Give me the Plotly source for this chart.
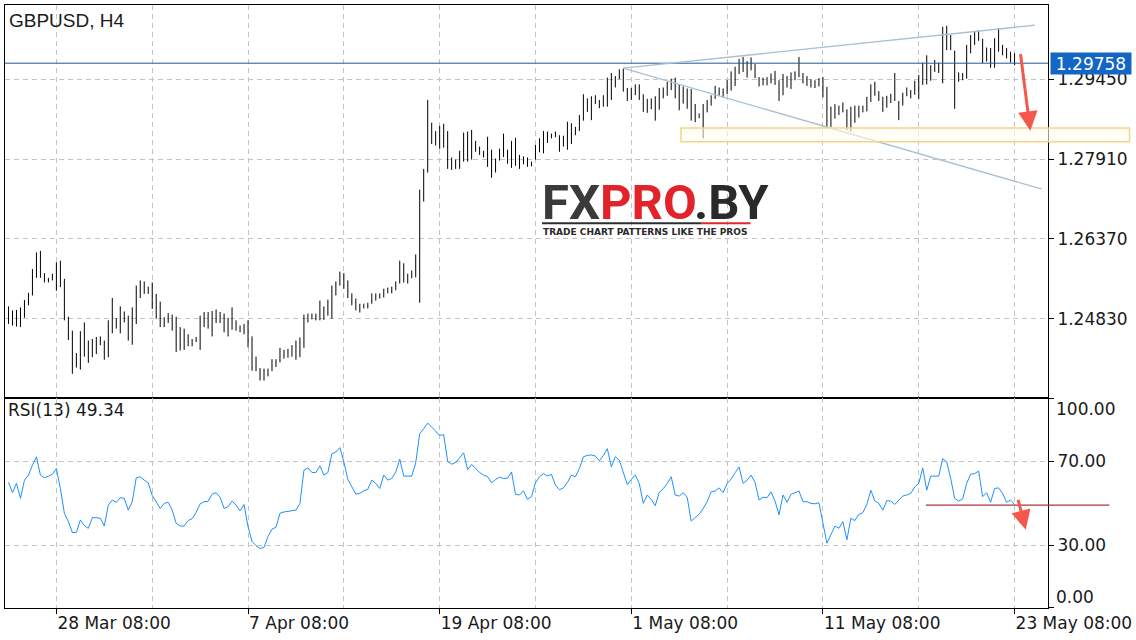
import plotly.graph_objects as go

# ---------------- data ----------------
bar_high = [
    1.2507, 1.2499, 1.2500, 1.2505, 1.2519, 1.2533, 1.2579, 1.2611, 1.2614, 1.2571,
    1.2562, 1.2570, 1.2592, 1.2595, 1.2560, 1.2487, 1.2460, 1.2417, 1.2459, 1.2476,
    1.2441, 1.2444, 1.2448, 1.2449, 1.2441, 1.2480, 1.2523, 1.2484, 1.2507, 1.2497,
    1.2489, 1.2505, 1.2547, 1.2557, 1.2555, 1.2545, 1.2553, 1.2531, 1.2516, 1.2486,
    1.2494, 1.2491, 1.2487, 1.2467, 1.2464, 1.2453, 1.2444, 1.2448, 1.2489, 1.2496,
    1.2496, 1.2498, 1.2501, 1.2496, 1.2493, 1.2485, 1.2505, 1.2480, 1.2470, 1.2473,
    1.2480, 1.2449, 1.2410, 1.2388, 1.2387, 1.2387, 1.2405, 1.2405, 1.2427, 1.2423,
    1.2425, 1.2432, 1.2441, 1.2447, 1.2491, 1.2493, 1.2493, 1.2493, 1.2518, 1.2507,
    1.2520, 1.2547, 1.2555, 1.2574, 1.2571, 1.2557, 1.2532, 1.2522, 1.2512, 1.2512,
    1.2514, 1.2532, 1.2532, 1.2532, 1.2541, 1.2543, 1.2545, 1.2555, 1.2595, 1.2590,
    1.2570, 1.2576, 1.2607, 1.2732, 1.2772, 1.2905, 1.2861, 1.2845, 1.2855, 1.2859,
    1.2845, 1.2794, 1.2790, 1.2807, 1.2842, 1.2844, 1.2847, 1.2826, 1.2815, 1.2807,
    1.2834, 1.2809, 1.2792, 1.2811, 1.2840, 1.2809, 1.2826, 1.2832, 1.2799, 1.2796,
    1.2794, 1.2786, 1.2818, 1.2831, 1.2845, 1.2844, 1.2840, 1.2844, 1.2837, 1.2836,
    1.2863, 1.2860, 1.2853, 1.2876, 1.2916, 1.2908, 1.2912, 1.2914, 1.2905, 1.2914,
    1.2948, 1.2957, 1.2951, 1.2964, 1.2966, 1.2928, 1.2928, 1.2935, 1.2935, 1.2916,
    1.2907, 1.2908, 1.2912, 1.2928, 1.2929, 1.2940, 1.2946, 1.2948, 1.2935, 1.2931,
    1.2927, 1.2926, 1.2897, 1.2879, 1.2897, 1.2905, 1.2914, 1.2932, 1.2929, 1.2927,
    1.2943, 1.2960, 1.2969, 1.2984, 1.2988, 1.2980, 1.2987, 1.2974, 1.2949, 1.2948,
    1.2949, 1.2956, 1.2961, 1.2943, 1.2955, 1.2951, 1.2958, 1.2960, 1.2988, 1.2957,
    1.2951, 1.2945, 1.2943, 1.2947, 1.2949, 1.2930, 1.2892, 1.2897, 1.2894, 1.2900,
    1.2887, 1.2892, 1.2894, 1.2894, 1.2894, 1.2911, 1.2935, 1.2940, 1.2922, 1.2911,
    1.2913, 1.2917, 1.2957, 1.2903, 1.2919, 1.2929, 1.2924, 1.2942, 1.2953, 1.2977,
    1.2991, 1.2972, 1.2982, 1.2977, 1.3046, 1.3048, 1.3030, 1.3000, 1.2958, 1.2957,
    1.3011, 1.3030, 1.3038, 1.3039, 1.3023, 1.3006, 1.3005, 1.3024, 1.3043, 1.3011,
    1.3005, 1.2998, 1.2995,
]
bar_low = [
    1.2473, 1.2470, 1.2468, 1.2467, 1.2485, 1.2509, 1.2528, 1.2562, 1.2562, 1.2553,
    1.2553, 1.2557, 1.2537, 1.2544, 1.2480, 1.2442, 1.2377, 1.2389, 1.2385, 1.2410,
    1.2398, 1.2409, 1.2415, 1.2432, 1.2404, 1.2409, 1.2455, 1.2464, 1.2455, 1.2476,
    1.2441, 1.2433, 1.2473, 1.2523, 1.2531, 1.2531, 1.2502, 1.2483, 1.2467, 1.2467,
    1.2475, 1.2460, 1.2419, 1.2422, 1.2423, 1.2430, 1.2430, 1.2438, 1.2423, 1.2467,
    1.2464, 1.2449, 1.2475, 1.2475, 1.2457, 1.2449, 1.2462, 1.2460, 1.2457, 1.2453,
    1.2428, 1.2383, 1.2382, 1.2364, 1.2364, 1.2372, 1.2382, 1.2390, 1.2399, 1.2406,
    1.2408, 1.2410, 1.2404, 1.2409, 1.2427, 1.2476, 1.2482, 1.2480, 1.2480, 1.2481,
    1.2489, 1.2483, 1.2528, 1.2547, 1.2541, 1.2523, 1.2509, 1.2499, 1.2495, 1.2503,
    1.2503, 1.2512, 1.2518, 1.2522, 1.2524, 1.2532, 1.2532, 1.2538, 1.2551, 1.2553,
    1.2551, 1.2561, 1.2563, 1.2514, 1.2709, 1.2765, 1.2820, 1.2817, 1.2811, 1.2813,
    1.2772, 1.2770, 1.2772, 1.2772, 1.2786, 1.2786, 1.2790, 1.2805, 1.2799, 1.2794,
    1.2776, 1.2755, 1.2765, 1.2788, 1.2795, 1.2782, 1.2774, 1.2778, 1.2772, 1.2781,
    1.2776, 1.2777, 1.2790, 1.2804, 1.2802, 1.2822, 1.2831, 1.2833, 1.2805, 1.2815,
    1.2809, 1.2820, 1.2837, 1.2845, 1.2865, 1.2882, 1.2866, 1.2897, 1.2889, 1.2892,
    1.2892, 1.2905, 1.2929, 1.2945, 1.2921, 1.2903, 1.2905, 1.2914, 1.2905, 1.2882,
    1.2880, 1.2887, 1.2865, 1.2886, 1.2908, 1.2913, 1.2924, 1.2908, 1.2885, 1.2898,
    1.2888, 1.2865, 1.2862, 1.2870, 1.2831, 1.2881, 1.2894, 1.2907, 1.2913, 1.2910,
    1.2916, 1.2923, 1.2932, 1.2955, 1.2959, 1.2948, 1.2962, 1.2947, 1.2931, 1.2933,
    1.2933, 1.2937, 1.2934, 1.2903, 1.2914, 1.2929, 1.2926, 1.2943, 1.2949, 1.2937,
    1.2932, 1.2929, 1.2928, 1.2931, 1.2910, 1.2853, 1.2853, 1.2869, 1.2876, 1.2881,
    1.2847, 1.2844, 1.2861, 1.2871, 1.2881, 1.2883, 1.2901, 1.2913, 1.2903, 1.2882,
    1.2890, 1.2899, 1.2903, 1.2866, 1.2894, 1.2912, 1.2908, 1.2915, 1.2907, 1.2934,
    1.2935, 1.2942, 1.2959, 1.2957, 1.2937, 1.3001, 1.3001, 1.2888, 1.2940, 1.2943,
    1.2946, 1.2995, 1.3011, 1.3019, 1.2976, 1.2979, 1.2967, 1.2967, 1.2998, 1.2991,
    1.2985, 1.2977, 1.2972,
]
rsi_values = [
    59.9, 55.0, 59.4, 52.3, 61.0, 63.4, 68.1, 72.1, 63.4, 62.1,
    62.9, 63.8, 66.5, 57.0, 45.2, 41.2, 36.0, 36.0, 42.0, 39.3,
    38.0, 43.1, 43.1, 42.8, 39.1, 49.1, 51.5, 50.4, 52.6, 52.3,
    46.7, 50.7, 62.1, 62.6, 61.0, 59.7, 53.7, 50.4, 47.5, 49.9,
    50.4, 46.7, 40.4, 39.1, 39.1, 41.7, 42.6, 45.6, 49.7, 50.7,
    50.9, 54.3, 55.0, 52.8, 47.5, 48.3, 51.0, 49.1, 46.3, 49.4,
    38.8, 31.7, 29.7, 28.4, 28.9, 34.1, 37.6, 38.5, 45.2, 45.8,
    46.2, 46.6, 46.7, 49.9, 65.7, 66.8, 64.6, 64.6, 67.8, 63.4,
    64.6, 73.6, 74.4, 76.5, 69.7, 61.3, 57.8, 54.3, 54.7, 55.9,
    56.6, 61.0, 59.4, 57.0, 63.4, 61.0, 61.8, 64.9, 71.0, 62.9,
    62.9, 62.9, 69.2, 83.1, 85.5, 88.2, 86.3, 84.2, 82.3, 82.7,
    70.0, 68.6, 69.4, 71.6, 74.0, 66.0, 68.4, 66.7, 64.6, 63.4,
    62.7, 59.7, 61.3, 62.4, 61.8, 61.9, 64.9, 54.2, 53.9, 55.9,
    51.8, 53.1, 59.7, 62.6, 64.1, 63.0, 63.7, 58.6, 56.4, 57.3,
    59.9, 63.4, 62.6, 66.5, 72.1, 72.8, 73.0, 72.5, 70.2, 72.8,
    76.0, 67.3, 72.1, 70.5, 64.1, 58.9, 61.3, 63.4, 59.4, 49.9,
    53.9, 51.8, 48.8, 55.1, 56.9, 59.4, 62.6, 53.9, 53.4, 55.0,
    52.8, 41.5, 43.1, 44.7, 47.5, 50.7, 55.4, 55.8, 57.3, 55.0,
    59.4, 61.5, 64.5, 67.3, 59.4, 61.0, 63.4, 59.9, 51.5, 52.8,
    52.6, 55.4, 51.0, 44.4, 53.9, 50.4, 54.2, 55.0, 55.8, 50.7,
    50.7, 49.9, 49.7, 50.2, 41.2, 30.9, 34.9, 39.1, 38.0, 41.2,
    32.5, 42.8, 41.7, 44.7, 45.5, 49.4, 56.2, 51.0, 49.9, 46.7,
    51.2, 51.0, 49.4, 51.5, 53.4, 53.9, 54.7, 57.8, 59.4, 66.8,
    56.2, 62.9, 62.9, 62.9, 71.3, 69.7, 61.8, 52.3, 51.0, 52.0,
    59.4, 63.8, 64.1, 65.3, 53.1, 55.0, 50.4, 57.0, 57.3, 54.7,
    50.4, 51.5, 49.3,
]

price_ticks = [1.24830, 1.26370, 1.27910, 1.29450]
price_tick_text = ["1.24830", "1.26370", "1.27910", "1.29450"]
rsi_ticks = [0, 30, 70, 100]
rsi_tick_text = ["", "30.00", "70.00", ""]
date_tick_index = [12, 60, 108, 156, 204, 252]
date_tick_text = ["28 Mar 08:00", "7 Apr 08:00", "19 Apr 08:00",
                  "1 May 08:00", "11 May 08:00", "23 May 08:00"]
grid_index = [12, 36, 60, 84, 108, 132, 156, 180, 204, 228, 252]

last_price = 1.29758
last_price_text = "1.29758"
rsi_label = "RSI(13) 49.34"
symbol_label = "GBPUSD, H4"

# drawn objects (bar index, price / rsi units)
tri_apex = (153.95, 1.29662)
tri_upper = (257.05, 1.30490)
tri_lower = (258.7, 1.27333)
zone_index = [168.45, 280.8]
zone_price = [1.28243, 1.28507]
price_arrow_tail = (253.45, 1.29962)
price_arrow_tip = (255.95, 1.28455)
rsi_level_index = [229.8, 275.75]
rsi_level = 49.1
rsi_arrow_tail = (252.8, 52.3)
rsi_arrow_tip = (254.8, 37.3)

# ---------------- figure ----------------
W, H = 1136, 640
ML, MR, MT, MB = 5, 86, 4, 32
X_RANGE = [-0.875, 260.375]
PRICE_RANGE = [1.232958, 1.308803]
SPLIT = 210 / 604.0

def px_x(px):
    return (px - ML) / (W - ML - MR)

def px_y(py):
    return (H - MB - py) / (H - MT - MB)

def idx_to_paper(k):
    return (k - X_RANGE[0]) / (X_RANGE[1] - X_RANGE[0])

bx, by = [], []
for i, (h, l) in enumerate(zip(bar_high, bar_low)):
    bx += [i, i, None]
    by += [h, l, None]

fig = go.Figure()
fig.add_trace(go.Scatter(x=bx, y=by, mode="lines", xaxis="x", yaxis="y",
                         line=dict(color="#000000", width=1), hoverinfo="skip",
                         showlegend=False))
fig.add_trace(go.Scatter(x=list(range(len(rsi_values))), y=rsi_values, mode="lines",
                         xaxis="x2", yaxis="y2",
                         line=dict(color="#1e90ff", width=1), showlegend=False))

GRID = dict(showgrid=True, gridcolor="#c4c4c4", gridwidth=1, griddash="5px,4px")
TICKFONT = dict(family="DejaVu Sans", size=17, color="#1a1a1a")

fig.update_layout(
    width=W, height=H,
    margin=dict(l=ML, r=MR, t=MT, b=MB, pad=0),
    paper_bgcolor="white", plot_bgcolor="white",
    showlegend=False,
    xaxis=dict(domain=[0, 1], anchor="y", range=X_RANGE, tickmode="array",
               tickvals=grid_index, showticklabels=False, ticks="",
               showline=True, mirror=True, linecolor="#000", linewidth=1,
               zeroline=False, **GRID),
    xaxis2=dict(domain=[0, 1], anchor="y2", range=X_RANGE, matches="x",
                tickmode="array", tickvals=date_tick_index, ticktext=date_tick_text,
                ticks="outside", ticklen=5, tickcolor="#000",
                ticklabelposition="outside right", tickfont=TICKFONT,
                minor=dict(tickmode="array", tickvals=grid_index, ticks="",
                           showgrid=True, gridcolor="#c4c4c4", griddash="5px,4px"),
                showline=True, mirror=True, linecolor="#000", linewidth=1,
                zeroline=False, **GRID),
    yaxis=dict(domain=[SPLIT, 1], anchor="x", side="right", range=PRICE_RANGE,
               tickmode="array", tickvals=price_ticks, ticktext=price_tick_text,
               ticks="outside", ticklen=5, tickcolor="#000", tickfont=TICKFONT,
               showline=True, mirror=True, linecolor="#000", linewidth=1,
               zeroline=False, **GRID),
    yaxis2=dict(domain=[0, SPLIT], anchor="x2", side="right", range=[0, 100],
                tickmode="array", tickvals=rsi_ticks, ticktext=rsi_tick_text,
                ticks="outside", ticklen=5, tickcolor="#000", tickfont=TICKFONT,
                showline=True, mirror=True, linecolor="#000", linewidth=1,
                zeroline=False, **GRID),
)

shapes = []
# current price line
shapes.append(dict(type="line", xref="paper", yref="y", x0=0, x1=1,
                   y0=last_price, y1=last_price,
                   line=dict(color="#1d5a98", width=1)))
# triangle lines
for end in (tri_upper, tri_lower):
    shapes.append(dict(type="line", xref="x", yref="y",
                       x0=tri_apex[0], y0=tri_apex[1], x1=end[0], y1=end[1],
                       line=dict(color="#a9c0d2", width=1.3)))
# support zone
shapes.append(dict(type="rect", xref="paper", yref="y",
                   x0=idx_to_paper(zone_index[0]), x1=idx_to_paper(zone_index[1]),
                   y0=zone_price[0], y1=zone_price[1],
                   line=dict(color="#f3d589", width=1.5),
                   fillcolor="rgba(255,252,240,0.6)", layer="above"))
# RSI level line
shapes.append(dict(type="line", xref="paper", yref="y2",
                   x0=idx_to_paper(rsi_level_index[0]), x1=idx_to_paper(rsi_level_index[1]),
                   y0=rsi_level, y1=rsi_level,
                   line=dict(color="#a03838", width=1.2)))
# logo underline
shapes.append(dict(type="line", xref="paper", yref="paper",
                   x0=px_x(543), x1=px_x(703), y0=px_y(222.5), y1=px_y(222.5),
                   line=dict(color="#2e2e2e", width=2)))
shapes.append(dict(type="line", xref="paper", yref="paper",
                   x0=px_x(703), x1=px_x(752), y0=px_y(222.5), y1=px_y(222.5),
                   line=dict(color="#e2262b", width=2)))
fig.update_layout(shapes=shapes)

ann = []
ann.append(dict(xref="paper", yref="paper", x=px_x(7), y=px_y(19.5),
                xanchor="left", yanchor="middle", showarrow=False,
                text=symbol_label,
                font=dict(family="Liberation Sans", size=19, color="#1a1a1a")))
ann.append(dict(xref="paper", yref="paper", x=px_x(6), y=px_y(410),
                xanchor="left", yanchor="middle", showarrow=False,
                text=rsi_label,
                font=dict(family="DejaVu Sans", size=17, color="#1a1a1a")))
ann.append(dict(xref="paper", yref="y", x=1, y=last_price, xanchor="left",
                yanchor="middle", xshift=2, showarrow=False, text=last_price_text,
                bgcolor="#1366c4", borderpad=2, width=76, height=17,
                font=dict(family="DejaVu Sans", size=17, color="#ffffff")))
ann.append(dict(xref="paper", yref="paper", x=1, y=px_y(409), xanchor="left",
                yanchor="middle", xshift=6, showarrow=False, text="100.00",
                font=TICKFONT))
ann.append(dict(xref="paper", yref="paper", x=1, y=px_y(597), xanchor="left",
                yanchor="middle", xshift=6, showarrow=False, text="0.00",
                font=TICKFONT))
# arrows
ann.append(dict(xref="x", yref="y", axref="x", ayref="y",
                x=price_arrow_tip[0], y=price_arrow_tip[1],
                ax=price_arrow_tail[0], ay=price_arrow_tail[1],
                text="", showarrow=True, arrowhead=2, arrowsize=1.3,
                arrowwidth=3, arrowcolor="#f4574b", standoff=0))
ann.append(dict(xref="x2", yref="y2", axref="x2", ayref="y2",
                x=rsi_arrow_tip[0], y=rsi_arrow_tip[1],
                ax=rsi_arrow_tail[0], ay=rsi_arrow_tail[1],
                text="", showarrow=True, arrowhead=2, arrowsize=1.3,
                arrowwidth=3, arrowcolor="#f4574b", standoff=0))
# logo
ann.append(dict(xref="paper", yref="paper", x=px_x(541), y=px_y(201),
                xanchor="left", yanchor="middle", showarrow=False,
                height=38, valign="middle",
                text=("<b><span style='color:#3a3a3a'>FX</span>"
                      "<span style='color:#e3232a'>PRO</span>"
                      "<span style='color:#2a2a2a'>.BY</span></b>"),
                font=dict(family="Roboto", size=49, color="#2a2a2a")))
ann.append(dict(xref="paper", yref="paper", x=px_x(542), y=px_y(231),
                xanchor="left", yanchor="middle", showarrow=False,
                text="<b>TRADE CHART PATTERNS LIKE THE PROS</b>",
                font=dict(family="DejaVu Sans", size=9, color="#2a2a2a")))
fig.update_layout(annotations=ann)

fig.write_html("out.html",
               config={"displayModeBar": False},
               post_script="document.body.style.margin='0';document.body.style.padding='0';")
